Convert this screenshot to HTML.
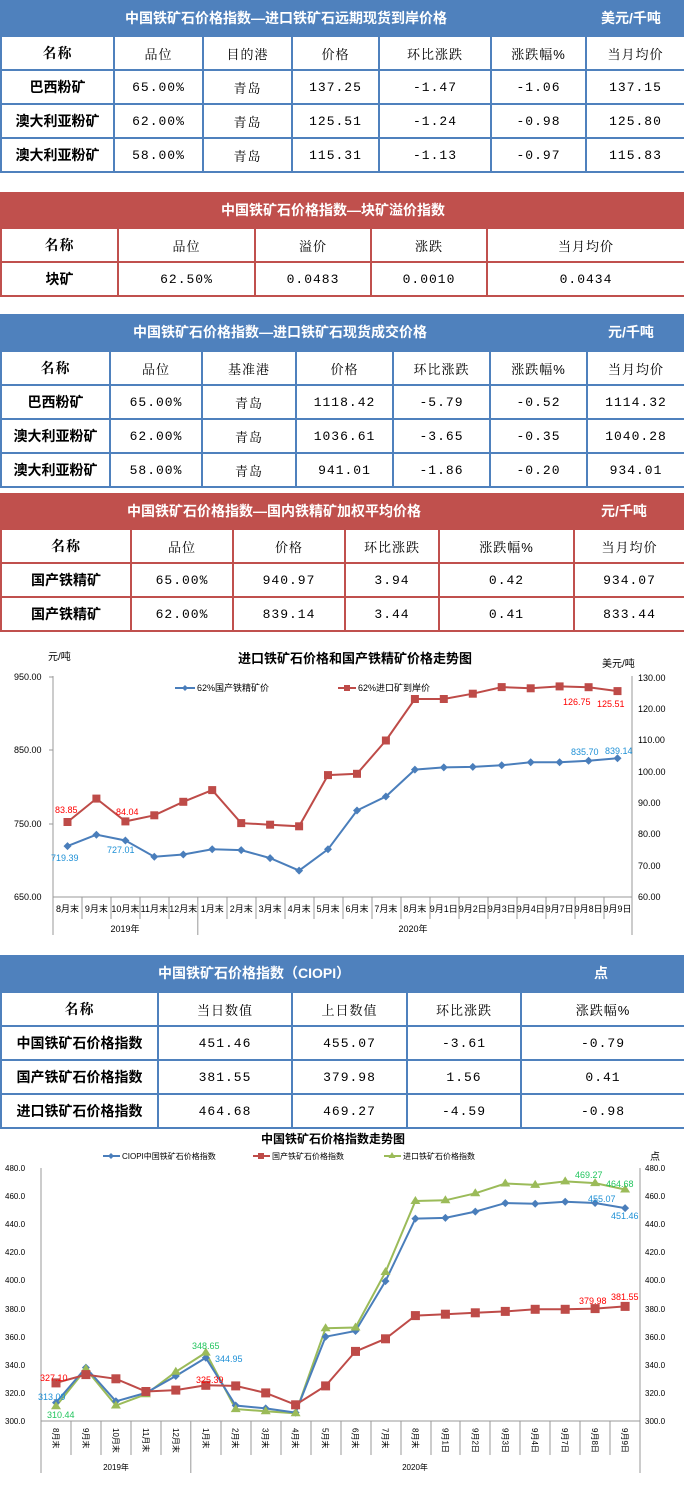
<!DOCTYPE html>
<html><head><meta charset="utf-8">
<style>
*{margin:0;padding:0;box-sizing:border-box}
body{width:684px;height:1487px;background:#fff;position:relative;overflow:hidden;font-family:"Liberation Sans","Noto Sans CJK SC",sans-serif;color:#000}
.hd{position:absolute;left:0;width:684px;height:36px;color:#fff;font-weight:bold;font-size:14px;line-height:36px}
.hd span{position:absolute;top:0;white-space:nowrap}
.b{background:#4f81bd}.r{background:#c0504d}
table{position:absolute;left:0;width:684px;border-collapse:collapse;table-layout:fixed}
td{text-align:center;font-size:13px;white-space:nowrap;overflow:hidden;letter-spacing:1px;font-family:"Liberation Mono","Noto Serif CJK SC",monospace}
td.n{font-weight:bold;font-family:"Liberation Sans","Noto Sans CJK SC",sans-serif;font-size:14px;letter-spacing:0}
tr.h td{font-family:"Liberation Sans","Noto Serif CJK SC",sans-serif;letter-spacing:1px}
.tb td{border:2px solid #4f81bd}
.tr td{border:2px solid #c0504d}
svg text{font-family:"Liberation Sans","Noto Sans CJK SC",sans-serif}
</style></head><body>

<div class="hd b" style="top:0"><span style="left:125px">中国铁矿石价格指数—进口铁矿石远期现货到岸价格</span><span style="left:601px">美元/千吨</span></div>
<table class="tb" style="top:35px">
<colgroup><col style="width:113px"><col style="width:89px"><col style="width:89px"><col style="width:87px"><col style="width:112px"><col style="width:95px"><col style="width:99px"></colgroup>
<tr class="h" style="height:34px"><td class="n">名称</td><td>品位</td><td>目的港</td><td>价格</td><td>环比涨跌</td><td>涨跌幅%</td><td>当月均价</td></tr>
<tr style="height:34px"><td class="n">巴西粉矿</td><td>65.00%</td><td>青岛</td><td>137.25</td><td>-1.47</td><td>-1.06</td><td>137.15</td></tr>
<tr style="height:34px"><td class="n">澳大利亚粉矿</td><td>62.00%</td><td>青岛</td><td>125.51</td><td>-1.24</td><td>-0.98</td><td>125.80</td></tr>
<tr style="height:34px"><td class="n">澳大利亚粉矿</td><td>58.00%</td><td>青岛</td><td>115.31</td><td>-1.13</td><td>-0.97</td><td>115.83</td></tr>
</table>

<div class="hd r" style="top:192px"><span style="left:221px">中国铁矿石价格指数—块矿溢价指数</span></div>
<table class="tr" style="top:227px">
<colgroup><col style="width:117px"><col style="width:137px"><col style="width:116px"><col style="width:116px"><col style="width:198px"></colgroup>
<tr class="h" style="height:34px"><td class="n">名称</td><td>品位</td><td>溢价</td><td>涨跌</td><td>当月均价</td></tr>
<tr style="height:34px"><td class="n">块矿</td><td>62.50%</td><td>0.0483</td><td>0.0010</td><td>0.0434</td></tr>
</table>

<div class="hd b" style="top:314px"><span style="left:133px">中国铁矿石价格指数—进口铁矿石现货成交价格</span><span style="left:608px">元/千吨</span></div>
<table class="tb" style="top:350px">
<colgroup><col style="width:109px"><col style="width:92px"><col style="width:94px"><col style="width:97px"><col style="width:97px"><col style="width:97px"><col style="width:98px"></colgroup>
<tr class="h" style="height:34px"><td class="n">名称</td><td>品位</td><td>基准港</td><td>价格</td><td>环比涨跌</td><td>涨跌幅%</td><td>当月均价</td></tr>
<tr style="height:34px"><td class="n">巴西粉矿</td><td>65.00%</td><td>青岛</td><td>1118.42</td><td>-5.79</td><td>-0.52</td><td>1114.32</td></tr>
<tr style="height:34px"><td class="n">澳大利亚粉矿</td><td>62.00%</td><td>青岛</td><td>1036.61</td><td>-3.65</td><td>-0.35</td><td>1040.28</td></tr>
<tr style="height:34px"><td class="n">澳大利亚粉矿</td><td>58.00%</td><td>青岛</td><td>941.01</td><td>-1.86</td><td>-0.20</td><td>934.01</td></tr>
</table>

<div class="hd r" style="top:493px"><span style="left:127px">中国铁矿石价格指数—国内铁精矿加权平均价格</span><span style="left:601px">元/千吨</span></div>
<table class="tr" style="top:528px">
<colgroup><col style="width:130px"><col style="width:102px"><col style="width:112px"><col style="width:94px"><col style="width:135px"><col style="width:111px"></colgroup>
<tr class="h" style="height:34px"><td class="n">名称</td><td>品位</td><td>价格</td><td>环比涨跌</td><td>涨跌幅%</td><td>当月均价</td></tr>
<tr style="height:34px"><td class="n">国产铁精矿</td><td>65.00%</td><td>940.97</td><td>3.94</td><td>0.42</td><td>934.07</td></tr>
<tr style="height:34px"><td class="n">国产铁精矿</td><td>62.00%</td><td>839.14</td><td>3.44</td><td>0.41</td><td>833.44</td></tr>
</table>

<svg style="position:absolute;left:0;top:0" width="684" height="1487">
<text x="355" y="663" font-size="13" font-weight="bold" text-anchor="middle">进口铁矿石价格和国产铁精矿价格走势图</text>
<text x="48" y="660" font-size="10">元/吨</text>
<text x="602" y="667" font-size="10">美元/吨</text>
<g font-size="9" fill="#000">
<text x="14" y="680">950.00</text><text x="14" y="753">850.00</text><text x="14" y="827">750.00</text><text x="14" y="900">650.00</text>
</g>
<g font-size="9" fill="#000">
<text x="638" y="681">130.00</text><text x="638" y="712">120.00</text><text x="638" y="743">110.00</text><text x="638" y="775">100.00</text><text x="638" y="806">90.00</text><text x="638" y="837">80.00</text><text x="638" y="869">70.00</text><text x="638" y="900">60.00</text>
</g>
<g stroke="#999" stroke-width="1" fill="none">
<line x1="53" y1="676" x2="53" y2="935"/><line x1="632" y1="676" x2="632" y2="935"/><line x1="53" y1="897" x2="632" y2="897"/>
<line x1="49" y1="677" x2="53" y2="677"/><line x1="49" y1="750" x2="53" y2="750"/><line x1="49" y1="824" x2="53" y2="824"/>
<line x1="197.8" y1="897" x2="197.8" y2="935"/>
<path d="M82 897v22M111 897v22M140 897v22M169 897v22M227 897v22M256 897v22M285 897v22M314 897v22M343 897v22M372 897v22M401 897v22M430 897v22M459 897v22M488 897v22M517 897v22M546 897v22M575 897v22M604 897v22"/>
</g>
<g font-size="9" text-anchor="middle">
<text x="67.5" y="912">8月末</text><text x="96.4" y="912">9月末</text><text x="125.4" y="912">10月末</text><text x="154.3" y="912">11月末</text><text x="183.3" y="912">12月末</text><text x="212.2" y="912">1月末</text><text x="241.2" y="912">2月末</text><text x="270.1" y="912">3月末</text><text x="299.1" y="912">4月末</text><text x="328" y="912">5月末</text><text x="357" y="912">6月末</text><text x="385.9" y="912">7月末</text><text x="414.9" y="912">8月末</text><text x="443.8" y="912">9月1日</text><text x="472.8" y="912">9月2日</text><text x="501.7" y="912">9月3日</text><text x="530.7" y="912">9月4日</text><text x="559.6" y="912">9月7日</text><text x="588.6" y="912">9月8日</text><text x="617.5" y="912">9月9日</text>
<text x="125" y="932">2019年</text><text x="413" y="932">2020年</text>
</g>
<line x1="175" y1="688" x2="195" y2="688" stroke="#4a7ebb" stroke-width="2"/><path d="M185 685l3 3-3 3-3-3z" fill="#4a7ebb"/>
<text x="197" y="691" font-size="9">62%国产铁精矿价</text>
<line x1="338" y1="688" x2="356" y2="688" stroke="#be4b48" stroke-width="2"/><rect x="344" y="685" width="6" height="6" fill="#be4b48"/>
<text x="358" y="691" font-size="9">62%进口矿到岸价</text>
<polyline fill="none" stroke="#4a7ebb" stroke-width="2" points="67.5,846.1 96.4,834.7 125.4,840.5 154.3,856.7 183.3,854.5 212.2,849.3 241.2,850.1 270.1,858.1 299.1,870.6 328,849.3 357,810.5 385.9,796.5 414.9,769.6 443.8,767.4 472.8,766.9 501.7,765.3 530.7,762.3 559.6,762.3 588.6,760.8 617.5,758.3"/>
<g fill="#4a7ebb"><path d="M67.5 842.1l4 4-4 4-4-4zM96.4 830.7l4 4-4 4-4-4zM125.4 836.5l4 4-4 4-4-4zM154.3 852.7l4 4-4 4-4-4zM183.3 850.5l4 4-4 4-4-4zM212.2 845.3l4 4-4 4-4-4zM241.2 846.1l4 4-4 4-4-4zM270.1 854.1l4 4-4 4-4-4zM299.1 866.6l4 4-4 4-4-4zM328 845.3l4 4-4 4-4-4zM357 806.5l4 4-4 4-4-4zM385.9 792.5l4 4-4 4-4-4zM414.9 765.6l4 4-4 4-4-4zM443.8 763.4l4 4-4 4-4-4zM472.8 762.9l4 4-4 4-4-4zM501.7 761.3l4 4-4 4-4-4zM530.7 758.3l4 4-4 4-4-4zM559.6 758.3l4 4-4 4-4-4zM588.6 756.8l4 4-4 4-4-4zM617.5 754.3l4 4-4 4-4-4z"/></g>
<polyline fill="none" stroke="#be4b48" stroke-width="2" points="67.5,822 96.4,798.6 125.4,821.4 154.3,815.3 183.3,801.8 212.2,790.1 241.2,823.1 270.1,824.7 299.1,826.3 328,775.1 357,773.8 385.9,740.5 414.9,699 443.8,699 472.8,693.7 501.7,687.1 530.7,688.3 559.6,686.4 588.6,687.2 617.5,691.1"/>
<g fill="#be4b48"><rect x="63.5" y="818" width="8" height="8"/><rect x="92.4" y="794.6" width="8" height="8"/><rect x="121.4" y="817.4" width="8" height="8"/><rect x="150.3" y="811.3" width="8" height="8"/><rect x="179.3" y="797.8" width="8" height="8"/><rect x="208.2" y="786.1" width="8" height="8"/><rect x="237.2" y="819.1" width="8" height="8"/><rect x="266.1" y="820.7" width="8" height="8"/><rect x="295.1" y="822.3" width="8" height="8"/><rect x="324" y="771.1" width="8" height="8"/><rect x="353" y="769.8" width="8" height="8"/><rect x="381.9" y="736.5" width="8" height="8"/><rect x="410.9" y="695" width="8" height="8"/><rect x="439.8" y="695" width="8" height="8"/><rect x="468.8" y="689.7" width="8" height="8"/><rect x="497.7" y="683.1" width="8" height="8"/><rect x="526.7" y="684.3" width="8" height="8"/><rect x="555.6" y="682.4" width="8" height="8"/><rect x="584.6" y="683.2" width="8" height="8"/><rect x="613.5" y="687.1" width="8" height="8"/></g>
<g font-size="9" fill="#ff0000"><text x="55" y="813">83.85</text><text x="116" y="815">84.04</text><text x="563" y="705">126.75</text><text x="597" y="707">125.51</text></g>
<g font-size="9" fill="#1e90d6"><text x="51" y="861">719.39</text><text x="107" y="853">727.01</text><text x="571" y="755">835.70</text><text x="605" y="754">839.14</text></g>
</svg>

<div class="hd b" style="top:955px"><span style="left:158px">中国铁矿石价格指数（CIOPI）</span><span style="left:594px">点</span></div>
<table class="tb" style="top:991px">
<colgroup><col style="width:157px"><col style="width:134px"><col style="width:115px"><col style="width:114px"><col style="width:164px"></colgroup>
<tr class="h" style="height:34px"><td class="n">名称</td><td>当日数值</td><td>上日数值</td><td>环比涨跌</td><td>涨跌幅%</td></tr>
<tr style="height:34px"><td class="n">中国铁矿石价格指数</td><td>451.46</td><td>455.07</td><td>-3.61</td><td>-0.79</td></tr>
<tr style="height:34px"><td class="n">国产铁矿石价格指数</td><td>381.55</td><td>379.98</td><td>1.56</td><td>0.41</td></tr>
<tr style="height:34px"><td class="n">进口铁矿石价格指数</td><td>464.68</td><td>469.27</td><td>-4.59</td><td>-0.98</td></tr>
</table>

<svg style="position:absolute;left:0;top:0" width="684" height="1487">
<text x="333" y="1143" font-size="12" font-weight="bold" text-anchor="middle">中国铁矿石价格指数走势图</text>
<text x="650" y="1160" font-size="10">点</text>
<line x1="103" y1="1156" x2="120" y2="1156" stroke="#4a7ebb" stroke-width="2"/><path d="M111 1153l3 3-3 3-3-3z" fill="#4a7ebb"/>
<text x="122" y="1159" font-size="8">CIOPI中国铁矿石价格指数</text>
<line x1="253" y1="1156" x2="270" y2="1156" stroke="#be4b48" stroke-width="2"/><rect x="258" y="1153" width="6" height="6" fill="#be4b48"/>
<text x="272" y="1159" font-size="8">国产铁矿石价格指数</text>
<line x1="384" y1="1156" x2="401" y2="1156" stroke="#9bbb59" stroke-width="2"/><path d="M392 1152l3.5 6h-7z" fill="#9bbb59"/>
<text x="403" y="1159" font-size="8">进口铁矿石价格指数</text>
<g font-size="8" fill="#000">
<text x="5" y="1171">480.0</text><text x="5" y="1199">460.0</text><text x="5" y="1227">440.0</text><text x="5" y="1255">420.0</text><text x="5" y="1283">400.0</text><text x="5" y="1312">380.0</text><text x="5" y="1340">360.0</text><text x="5" y="1368">340.0</text><text x="5" y="1396">320.0</text><text x="5" y="1424">300.0</text>
<text x="645" y="1171">480.0</text><text x="645" y="1199">460.0</text><text x="645" y="1227">440.0</text><text x="645" y="1255">420.0</text><text x="645" y="1283">400.0</text><text x="645" y="1312">380.0</text><text x="645" y="1340">360.0</text><text x="645" y="1368">340.0</text><text x="645" y="1396">320.0</text><text x="645" y="1424">300.0</text>
</g>
<g stroke="#999" stroke-width="1" fill="none">
<line x1="41" y1="1168" x2="41" y2="1473"/><line x1="640" y1="1168" x2="640" y2="1473"/><line x1="41" y1="1421" x2="640" y2="1421"/>
<line x1="190.8" y1="1421" x2="190.8" y2="1473"/>
<path d="M71 1421v34M101 1421v34M131 1421v34M161 1421v34M221 1421v34M251 1421v34M281 1421v34M311 1421v34M341 1421v34M371 1421v34M401 1421v34M431 1421v34M460 1421v34M490 1421v34M520 1421v34M550 1421v34M580 1421v34M610 1421v34"/>
</g>
<g font-size="8">
<text transform="translate(53,1428) rotate(90)">8月末</text><text transform="translate(82.9,1428) rotate(90)">9月末</text><text transform="translate(112.9,1428) rotate(90)">10月末</text><text transform="translate(142.9,1428) rotate(90)">11月末</text><text transform="translate(172.8,1428) rotate(90)">12月末</text><text transform="translate(202.8,1428) rotate(90)">1月末</text><text transform="translate(232.7,1428) rotate(90)">2月末</text><text transform="translate(262.7,1428) rotate(90)">3月末</text><text transform="translate(292.6,1428) rotate(90)">4月末</text><text transform="translate(322.6,1428) rotate(90)">5月末</text><text transform="translate(352.5,1428) rotate(90)">6月末</text><text transform="translate(382.5,1428) rotate(90)">7月末</text><text transform="translate(412.4,1428) rotate(90)">8月末</text><text transform="translate(442.4,1428) rotate(90)">9月1日</text><text transform="translate(472.3,1428) rotate(90)">9月2日</text><text transform="translate(502.3,1428) rotate(90)">9月3日</text><text transform="translate(532.2,1428) rotate(90)">9月4日</text><text transform="translate(562.2,1428) rotate(90)">9月7日</text><text transform="translate(592.1,1428) rotate(90)">9月8日</text><text transform="translate(622.1,1428) rotate(90)">9月9日</text>
<text x="116" y="1470" text-anchor="middle">2019年</text><text x="415" y="1470" text-anchor="middle">2020年</text>
</g>
<polyline fill="none" stroke="#9bbb59" stroke-width="2" points="56,1406.3 85.9,1369 115.9,1405.5 145.9,1394.3 175.8,1371.8 205.8,1352.6 235.7,1409.1 265.7,1411.2 295.6,1413.3 325.6,1328.2 355.5,1327.5 385.5,1272 415.4,1201 445.4,1200.3 475.3,1193.3 505.3,1183.5 535.2,1184.9 565.2,1181.4 595.1,1183.1 625.1,1189.5"/>
<polyline fill="none" stroke="#4a7ebb" stroke-width="2" points="56,1402.6 85.9,1367.6 115.9,1401.3 145.9,1392.9 175.8,1376 205.8,1357.8 235.7,1405.5 265.7,1408.4 295.6,1412.6 325.6,1336.7 355.5,1331 385.5,1281.1 415.4,1218.6 445.4,1217.9 475.3,1211.6 505.3,1203.1 535.2,1203.8 565.2,1201.7 595.1,1203 625.1,1208.1"/>
<polyline fill="none" stroke="#be4b48" stroke-width="2" points="56,1382.9 85.9,1374.6 115.9,1378.8 145.9,1391.5 175.8,1390.1 205.8,1385.3 235.7,1385.9 265.7,1392.9 295.6,1404.8 325.6,1385.9 355.5,1351.4 385.5,1338.8 415.4,1315.6 445.4,1314.2 475.3,1312.8 505.3,1311.4 535.2,1309.3 565.2,1309.3 595.1,1308.6 625.1,1306.4"/>
<g fill="#4a7ebb"><path d="M56 1398.6l4 4-4 4-4-4zM85.9 1363.6l4 4-4 4-4-4zM115.9 1397.3l4 4-4 4-4-4zM145.9 1388.9l4 4-4 4-4-4zM175.8 1372l4 4-4 4-4-4zM205.8 1353.8l4 4-4 4-4-4zM235.7 1401.5l4 4-4 4-4-4zM265.7 1404.4l4 4-4 4-4-4zM295.6 1408.6l4 4-4 4-4-4zM325.6 1332.7l4 4-4 4-4-4zM355.5 1327l4 4-4 4-4-4zM385.5 1277.1l4 4-4 4-4-4zM415.4 1214.6l4 4-4 4-4-4zM445.4 1213.9l4 4-4 4-4-4zM475.3 1207.6l4 4-4 4-4-4zM505.3 1199.1l4 4-4 4-4-4zM535.2 1199.8l4 4-4 4-4-4zM565.2 1197.7l4 4-4 4-4-4zM595.1 1199l4 4-4 4-4-4zM625.1 1204.1l4 4-4 4-4-4z"/></g>
<g fill="#9bbb59"><path d="M56 1401.3l5 8h-10zM85.9 1364l5 8h-10zM115.9 1400.5l5 8h-10zM145.9 1389.3l5 8h-10zM175.8 1366.8l5 8h-10zM205.8 1347.6l5 8h-10zM235.7 1404.1l5 8h-10zM265.7 1406.2l5 8h-10zM295.6 1408.3l5 8h-10zM325.6 1323.2l5 8h-10zM355.5 1322.5l5 8h-10zM385.5 1267l5 8h-10zM415.4 1196l5 8h-10zM445.4 1195.3l5 8h-10zM475.3 1188.3l5 8h-10zM505.3 1178.5l5 8h-10zM535.2 1179.9l5 8h-10zM565.2 1176.4l5 8h-10zM595.1 1178.1l5 8h-10zM625.1 1184.5l5 8h-10z"/></g>
<g fill="#be4b48"><rect x="51.5" y="1378.4" width="9" height="9"/><rect x="81.4" y="1370.1" width="9" height="9"/><rect x="111.4" y="1374.3" width="9" height="9"/><rect x="141.4" y="1387" width="9" height="9"/><rect x="171.3" y="1385.6" width="9" height="9"/><rect x="201.3" y="1380.8" width="9" height="9"/><rect x="231.2" y="1381.4" width="9" height="9"/><rect x="261.2" y="1388.4" width="9" height="9"/><rect x="291.1" y="1400.3" width="9" height="9"/><rect x="321.1" y="1381.4" width="9" height="9"/><rect x="351" y="1346.9" width="9" height="9"/><rect x="381" y="1334.3" width="9" height="9"/><rect x="410.9" y="1311.1" width="9" height="9"/><rect x="440.9" y="1309.7" width="9" height="9"/><rect x="470.8" y="1308.3" width="9" height="9"/><rect x="500.8" y="1306.9" width="9" height="9"/><rect x="530.7" y="1304.8" width="9" height="9"/><rect x="560.7" y="1304.8" width="9" height="9"/><rect x="590.6" y="1304.1" width="9" height="9"/><rect x="620.6" y="1301.9" width="9" height="9"/></g>
<g font-size="9" fill="#ff0000"><text x="40" y="1381">327.10</text><text x="196" y="1383">325.39</text><text x="579" y="1304">379.98</text><text x="611" y="1300">381.55</text></g>
<g font-size="9" fill="#1e90d6"><text x="38" y="1400">313.09</text><text x="215" y="1362">344.95</text><text x="588" y="1202">455.07</text><text x="611" y="1219">451.46</text></g>
<g font-size="9" fill="#22c55e"><text x="47" y="1418">310.44</text><text x="192" y="1349">348.65</text><text x="575" y="1178">469.27</text><text x="606" y="1187">464.68</text></g>
</svg>
</body></html>
